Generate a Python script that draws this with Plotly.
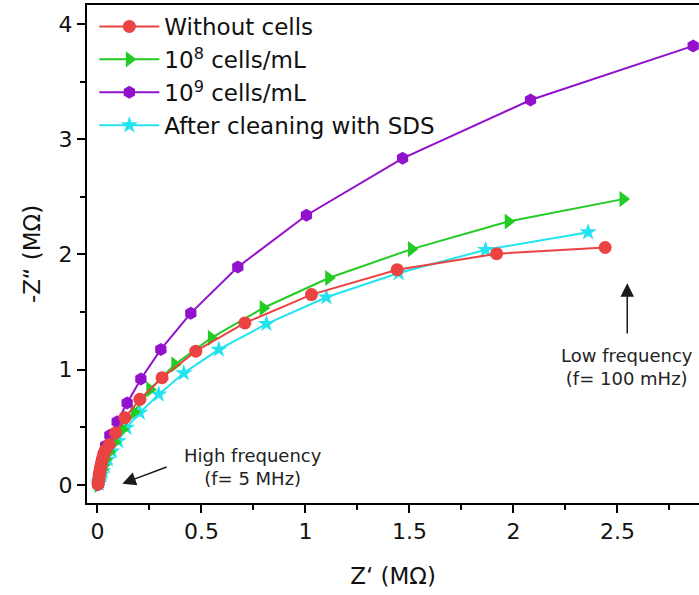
import plotly.graph_objects as go

# ---- data ----
red_x = [0.003, 0.005, 0.007, 0.009, 0.012, 0.015, 0.019, 0.024, 0.030, 0.038, 0.057, 0.087,
         0.132, 0.204, 0.311, 0.473, 0.709, 1.029, 1.441, 1.919, 2.441]
red_y = [0.005, 0.03, 0.06, 0.09, 0.12, 0.155, 0.19, 0.225, 0.265, 0.30, 0.35, 0.45,
         0.583, 0.742, 0.93, 1.16, 1.405, 1.651, 1.867, 2.006, 2.06]

green_x = [0.004, 0.005, 0.007, 0.010, 0.014, 0.020, 0.028, 0.040, 0.057, 0.083, 0.120,
           0.176, 0.252, 0.372, 0.548, 0.797, 1.112, 1.510, 1.975, 2.527]
green_y = [0.0, 0.03, 0.05, 0.075, 0.10, 0.13, 0.17, 0.22, 0.285, 0.37, 0.48,
           0.632, 0.828, 1.045, 1.275, 1.535, 1.795, 2.046, 2.286, 2.48]

purple_x = [0.003, 0.005, 0.008, 0.012, 0.016, 0.022, 0.030, 0.040, 0.060, 0.095, 0.143,
            0.209, 0.305, 0.449, 0.675, 1.005, 1.467, 2.082, 2.864]
purple_y = [0.0, 0.03, 0.07, 0.11, 0.16, 0.21, 0.27, 0.34, 0.43, 0.548, 0.71,
            0.918, 1.175, 1.49, 1.89, 2.34, 2.834, 3.34, 3.81]

cyan_x = [0.006, 0.009, 0.013, 0.018, 0.025, 0.035, 0.050, 0.070, 0.100, 0.140, 0.204,
          0.295, 0.415, 0.584, 0.813, 1.101, 1.449, 1.866, 2.359]
cyan_y = [0.01, 0.03, 0.055, 0.085, 0.12, 0.165, 0.22, 0.29, 0.38, 0.496, 0.626,
          0.785, 0.97, 1.175, 1.397, 1.628, 1.838, 2.04, 2.193]

x_ticks = [0, 0.5, 1, 1.5, 2, 2.5]
x_tick_labels = ["0", "0.5", "1", "1.5", "2", "2.5"]
y_ticks = [0, 1, 2, 3, 4]
y_tick_labels = ["0", "1", "2", "3", "4"]

FONT = "DejaVu Sans"

fig = go.Figure()

fig.add_trace(go.Scatter(x=cyan_x, y=cyan_y, mode="lines+markers", name="After cleaning with SDS",
                         legendrank=4,
                         line=dict(color="#22E3EE", width=2),
                         marker=dict(symbol="star", size=13, color="#22E3EE"), cliponaxis=False))
fig.add_trace(go.Scatter(x=green_x, y=green_y, mode="lines+markers", name="10<sup>8</sup> cells/mL",
                         legendrank=2,
                         line=dict(color="#22CC22", width=2),
                         marker=dict(symbol="triangle-right", size=14, color="#22CC22"), cliponaxis=False))
fig.add_trace(go.Scatter(x=purple_x, y=purple_y, mode="lines+markers", name="10<sup>9</sup> cells/mL",
                         legendrank=3,
                         line=dict(color="#9111CC", width=2),
                         marker=dict(symbol="hexagon", size=13, color="#9111CC"), cliponaxis=False))
fig.add_trace(go.Scatter(x=red_x, y=red_y, mode="lines+markers", name="Without cells",
                         legendrank=1,
                         line=dict(color="#EB4242", width=2),
                         marker=dict(symbol="circle", size=13, color="#EB4242"), cliponaxis=False))

arrow_col = "#1a1a1a"
# High frequency annotation
fig.add_annotation(x=0.12, y=0.01, ax=0.34, ay=0.16, xref="x", yref="y", axref="x", ayref="y",
                   text="", showarrow=True, arrowhead=2, arrowsize=1.8, arrowwidth=1.5,
                   arrowcolor=arrow_col)
fig.add_annotation(x=0.75, y=0.152, xref="x", yref="y", showarrow=False,
                   text="High frequency<br>(f= 5 MHz)", font=dict(family=FONT, size=18, color="#222"))
# Low frequency annotation
fig.add_annotation(x=2.547, y=1.75, ax=2.547, ay=1.30, xref="x", yref="y", axref="x", ayref="y",
                   text="", showarrow=True, arrowhead=2, arrowsize=1.8, arrowwidth=1.5,
                   arrowcolor=arrow_col)
fig.add_annotation(x=2.547, y=1.02, xref="x", yref="y", showarrow=False,
                   text="Low frequency<br>(f= 100 mHz)", font=dict(family=FONT, size=18, color="#222"))

fig.update_layout(
    width=699, height=595,
    margin=dict(l=87, r=0, t=5, b=92),
    paper_bgcolor="white", plot_bgcolor="white",
    font=dict(family=FONT, color="#111"),
    showlegend=True,
    legend=dict(x=0.012, y=1.0, xanchor="left", yanchor="top",
                font=dict(family=FONT, size=23, color="#111"),
                itemwidth=60,
                bgcolor="rgba(0,0,0,0)", tracegroupgap=0),
    xaxis=dict(range=[-0.05, 2.892], showgrid=False, zeroline=False,
               showline=True, linecolor="black", linewidth=2, mirror=True,
               ticks="outside", ticklen=8, tickwidth=1.5, tickcolor="black",
               tickvals=x_ticks, ticktext=x_tick_labels,
               tickfont=dict(family=FONT, size=22, color="#111"),
               ticklabelstandoff=0,
               minor=dict(dtick=0.25, tick0=0, ticks="outside", ticklen=5, tickwidth=1.5, tickcolor="black"),
               title=dict(text="Z‘ (MΩ)", font=dict(family=FONT, size=23, color="#111"), standoff=24)),
    yaxis=dict(range=[-0.158, 4.165], showgrid=False, zeroline=False,
               showline=True, linecolor="black", linewidth=2, mirror=False,
               ticks="outside", ticklen=8, tickwidth=1.5, tickcolor="black",
               tickvals=y_ticks, ticktext=y_tick_labels,
               tickfont=dict(family=FONT, size=22, color="#111"),
               minor=dict(dtick=0.5, tick0=0, ticks="outside", ticklen=5, tickwidth=1.5, tickcolor="black"),
               title=dict(text="-Z“ (MΩ)", font=dict(family=FONT, size=23, color="#111"), standoff=12)),
)

fig.write_html("out.html", config={"displayModeBar": False},
               post_script="document.body.style.margin='0px';")
